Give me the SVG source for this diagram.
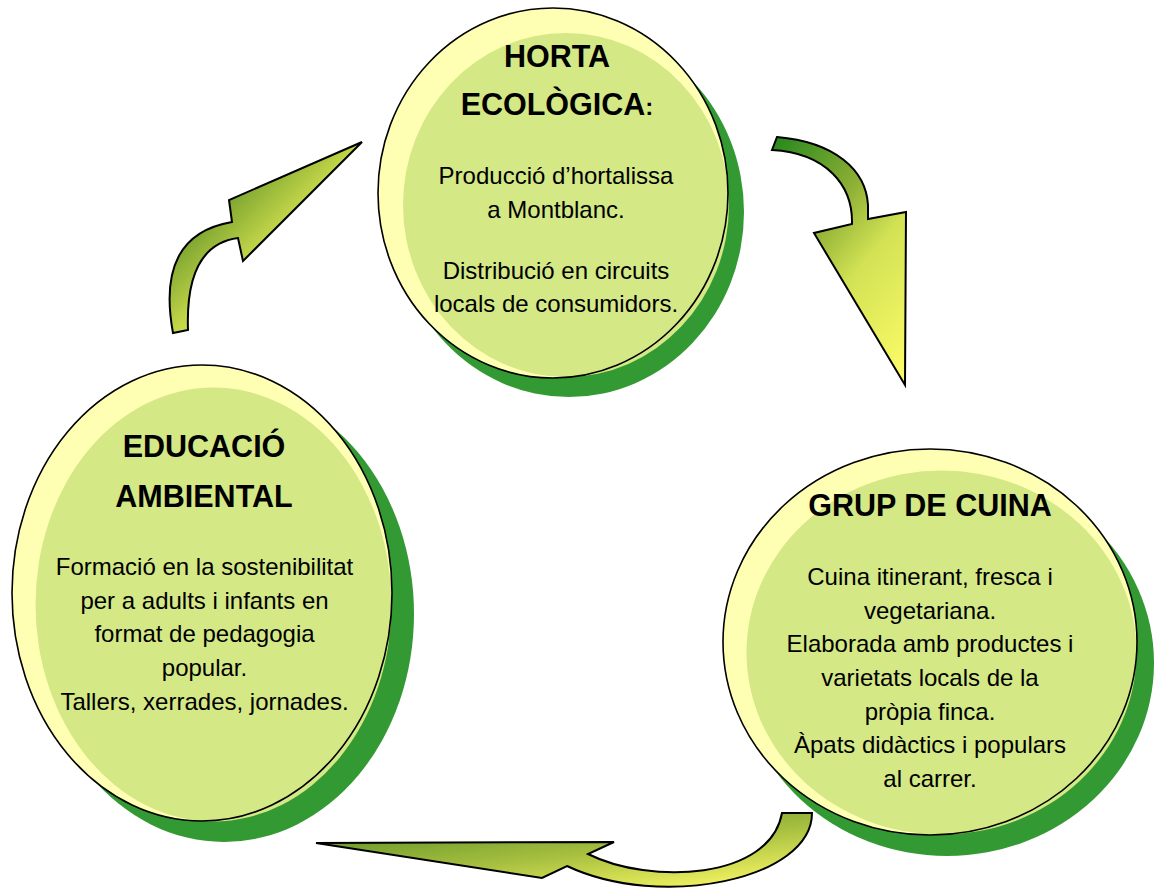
<svg xmlns="http://www.w3.org/2000/svg" width="1155" height="888" viewBox="0 0 1155 888">
<style>
.shadow{fill:#339933}
.hl{fill:#ffffb4}
.body{fill:#d4e886}
.ring{fill:none;stroke:#000;stroke-width:1.6}
.t{font-family:"Liberation Sans",Arial,sans-serif;fill:#000;text-anchor:middle}
.title{font-size:30.5px;font-weight:bold}
.txt{font-size:24px}
.arrow{stroke:#000;stroke-width:2;stroke-linejoin:miter}
</style>
<defs>
<linearGradient id="g1" gradientUnits="userSpaceOnUse" x1="210" y1="210" x2="290" y2="290">
<stop offset="0" stop-color="#76a02e"/>
<stop offset="0.55" stop-color="#c6d84a"/>
<stop offset="1" stop-color="#d8e458"/>
</linearGradient>
<linearGradient id="g2" gradientUnits="userSpaceOnUse" x1="775" y1="143" x2="960" y2="300">
<stop offset="0" stop-color="#2a8a1e"/>
<stop offset="0.35" stop-color="#8cae34"/>
<stop offset="0.6" stop-color="#d2e254"/>
<stop offset="1" stop-color="#fafa66"/>
</linearGradient>
<linearGradient id="g3" gradientUnits="userSpaceOnUse" x1="316" y1="843" x2="331" y2="966">
<stop offset="0" stop-color="#6e9c2c"/>
<stop offset="0.35" stop-color="#a8c040"/>
<stop offset="0.75" stop-color="#f4f462"/>
<stop offset="1" stop-color="#f8f866"/>
</linearGradient>
</defs>

<g id="node-horta">
<ellipse class="shadow" cx="569" cy="212" rx="175" ry="185"/>
<ellipse class="hl" cx="553" cy="193" rx="175" ry="185"/>
<ellipse class="body" cx="566" cy="205" rx="163" ry="172"/>
<ellipse class="ring" cx="553" cy="193" rx="175" ry="185"/>
<text class="t title" x="557" y="67">HORTA</text>
<text class="t title" x="557" y="115">ECOLÒGICA<tspan font-size="24px">:</tspan></text>
<text class="t txt" x="556" y="184">Producció d’hortalissa</text>
<text class="t txt" x="556" y="218">a Montblanc.</text>
<text class="t txt" x="556" y="279">Distribució en circuits</text>
<text class="t txt" x="556" y="312">locals de consumidors.</text>
</g>

<g id="node-educacio">
<ellipse class="shadow" cx="224" cy="614" rx="190" ry="228"/>
<ellipse class="hl" cx="202" cy="593" rx="190" ry="228"/>
<ellipse class="body" cx="213.5" cy="604.5" rx="178" ry="217"/>
<ellipse class="ring" cx="202" cy="593" rx="190" ry="228"/>
<text class="t title" x="204" y="457">EDUCACIÓ</text>
<text class="t title" x="204" y="507">AMBIENTAL</text>
<text class="t txt" x="204.5" y="575">Formació en la sostenibilitat</text>
<text class="t txt" x="204.5" y="609">per a adults i infants en</text>
<text class="t txt" x="204.5" y="642">format de pedagogia</text>
<text class="t txt" x="204.5" y="676">popular.</text>
<text class="t txt" x="204.5" y="710">Tallers, xerrades, jornades.</text>
</g>

<g id="node-cuina">
<ellipse class="shadow" cx="947" cy="663" rx="207" ry="193"/>
<ellipse class="hl" cx="930" cy="642" rx="207" ry="193"/>
<ellipse class="body" cx="941.5" cy="652.5" rx="195" ry="182"/>
<ellipse class="ring" cx="930" cy="642" rx="207" ry="193"/>
<text class="t title" x="930" y="516">GRUP DE CUINA</text>
<text class="t txt" x="930" y="585">Cuina itinerant, fresca i</text>
<text class="t txt" x="930" y="619">vegetariana.</text>
<text class="t txt" x="930" y="652">Elaborada amb productes i</text>
<text class="t txt" x="930" y="686">varietats locals de la</text>
<text class="t txt" x="930" y="720">pròpia finca.</text>
<text class="t txt" x="930" y="753">Àpats didàctics i populars</text>
<text class="t txt" x="930" y="787">al carrer.</text>
</g>

<g id="connectors">
<path class="arrow" fill="url(#g1)" d="M173,333 Q155,235 232,222 L229,200 L362,142 L243,261 L238,238 Q185,245 188,330 Z"/>
<path class="arrow" fill="url(#g2)" d="M777,137 C835,142 866,170 868,205 L868,219 L906,212 L905,385 L814,233 L852,224 C853,185 826,153 772,150 Z"/>
<path class="arrow" fill="url(#g3)" d="M316,843 L614,842 L588,854 C650,885 770,880 782,813 L812,813 C812,880 660,910 567,866 L542,878 Z"/>
</g>
</svg>
